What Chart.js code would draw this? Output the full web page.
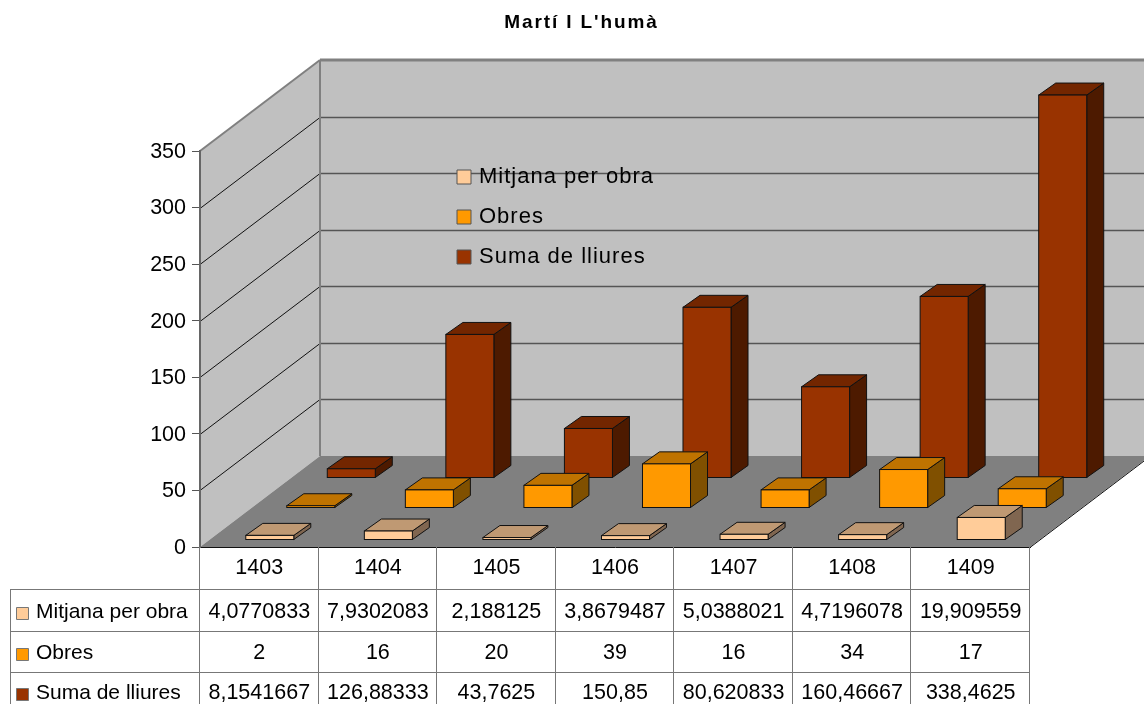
<!DOCTYPE html>
<html>
<head>
<meta charset="utf-8">
<title>Martí I L'humà</title>
<style>
  html, body { margin: 0; padding: 0; background: #fff; }
  canvas { display: block; }
</style>
<script src="https://cdn.jsdelivr.net/npm/chart.js@4/dist/chart.umd.min.js"></script>
</head>
<body>
<canvas id="myChart" width="1144" height="704"></canvas>
<script>
// --- Data ---
const years = ['1403', '1404', '1405', '1406', '1407', '1408', '1409'];
const seriesNames = ['Mitjana per obra', 'Obres', 'Suma de lliures'];
const mitjana = [4.0770833, 7.9302083, 2.188125, 3.8679487, 5.0388021, 4.7196078, 19.909559];
const obres = [2, 16, 20, 39, 16, 34, 17];
const suma = [8.1541667, 126.88333, 43.7625, 150.85, 80.620833, 160.46667, 338.4625];

// --- Styles ---
const FONT = '"Liberation Sans", Arial, sans-serif';
const colors = ['#ffcc99', '#ff9900', '#993300'];
const topColors = ['#bf9973', '#bf7300', '#732600'];
const sideColors = ['#806650', '#805000', '#4d1a00'];
const seriesOffset = [[10.5, -7], [51.5, -39], [92, -69]]; // each row sits deeper on the floor
const barDepth = [17, -12];
const wallDepth = [120, -91];
const rowLines = [589, 631, 672];
const rowCenters = [610, 651, 691];

function poly(ctx, pts, fill, stroke, width) {
    ctx.beginPath();
    pts.forEach((p, i) => i ? ctx.lineTo(p[0], p[1]) : ctx.moveTo(p[0], p[1]));
    ctx.closePath();
    if (fill) { ctx.fillStyle = fill; ctx.fill(); }
    if (stroke) { ctx.strokeStyle = stroke; ctx.lineWidth = width || 1; ctx.stroke(); }
}

function line(ctx, x1, y1, x2, y2, color, width) {
    ctx.beginPath();
    ctx.moveTo(x1, y1);
    ctx.lineTo(x2, y2);
    ctx.strokeStyle = color;
    ctx.lineWidth = width || 1;
    ctx.stroke();
}

// canvas letter spacing for the boxes that have stretched text
function spaceOut(box, px) {
    if (box._spaced) return;
    box._spaced = true;
    const draw = box.draw.bind(box);
    box.draw = function (area) {
        box.ctx.letterSpacing = px + 'px';
        draw(area);
        box.ctx.letterSpacing = '0px';
    };
}

// --- 3D room, bar faces and data table ---
const room3d = {
    id: 'room3d',
    afterLayout(chart) {
        const legend = chart.legend;
        legend.left = 442; legend.right = 760; legend.top = 148; legend.bottom = 500;
        chart.titleBlock.left = 19;
        chart.titleBlock.right = 1144;
        spaceOut(legend, 1);
        spaceOut(chart.titleBlock, 1.9);
    },
    beforeDraw(chart) {
        const ctx = chart.ctx;
        const y = chart.scales.y;
        const x = chart.scales.x;
        const l = x.left, r = x.right, t = y.top, b = y.bottom;
        const dx = wallDepth[0], dy = wallDepth[1];
        ctx.save();
        poly(ctx, [[l, t], [l + dx, t + dy], [l + dx, b + dy], [l, b]], '#c0c0c0');
        poly(ctx, [[l + dx, t + dy], [r + dx, t + dy], [r + dx, b + dy], [l + dx, b + dy]], '#c0c0c0');
        poly(ctx, [[l, b], [l + dx, b + dy], [r + dx, b + dy], [r, b]], '#808080');
        y.ticks.forEach(tick => {
            if (tick.value === 0 || tick.value === y.max) return;
            const py = Math.round(y.getPixelForValue(tick.value)) + 0.5;
            line(ctx, l, py, l + dx, py + dy, '#111');
            line(ctx, l + dx, py + dy, r + dx, py + dy, '#555', 1.5);
        });
        line(ctx, l, t, l + dx, t + dy, '#808080', 2);
        line(ctx, l + dx, t + dy, r + dx, t + dy, '#808080', 3);
        line(ctx, l + dx, t + dy, l + dx, b + dy, '#808080', 2);
        line(ctx, r, b + 0.5, r + dx, b + dy + 0.5, '#111');
        ctx.restore();
    },
    beforeDatasetDraw(chart, args) {
        const ctx = chart.ctx;
        const i = args.index;
        const dx = barDepth[0], dy = barDepth[1];
        ctx.save();
        ctx.translate(seriesOffset[i][0], seriesOffset[i][1]);
        args.meta.data.forEach(bar => {
            const p = bar.getProps(['x', 'y', 'base', 'width'], true);
            const x0 = p.x - p.width / 2, x1 = p.x + p.width / 2;
            poly(ctx, [[x1, p.y], [x1 + dx, p.y + dy], [x1 + dx, p.base + dy], [x1, p.base]], sideColors[i], '#111');
            poly(ctx, [[x0, p.y], [x0 + dx, p.y + dy], [x1 + dx, p.y + dy], [x1, p.y]], topColors[i], '#111');
        });
    },
    afterDatasetDraw(chart, args) {
        const ctx = chart.ctx;
        // outline on the edge of the front face, so the very low bars keep their fill
        args.meta.data.forEach(bar => {
            const p = bar.getProps(['x', 'y', 'base', 'width'], true);
            ctx.strokeStyle = '#111';
            ctx.lineWidth = 1;
            ctx.strokeRect(p.x - p.width / 2, p.y, p.width, p.base - p.y);
        });
        ctx.restore();
    },
    afterDraw(chart) {
        const ctx = chart.ctx;
        const x = chart.scales.x;
        const w = (x.right - x.left) / years.length;
        const bottom = chart.height;
        const grey = '#777';
        ctx.save();
        rowLines.forEach(ry => line(ctx, 10, ry + 0.5, x.right, ry + 0.5, grey));
        line(ctx, 10.5, rowLines[0], 10.5, bottom, grey);
        for (let c = 0; c <= years.length; c++) {
            const vx = Math.round(x.left + c * w) - 0.5;
            line(ctx, vx, x.top, vx, bottom, grey);
        }
        ctx.textBaseline = 'middle';
        chart.data.datasets.forEach((ds, i) => {
            const cy = rowCenters[i];
            poly(ctx, [[16.5, cy - 2.5], [28.5, cy - 2.5], [28.5, cy + 9.5], [16.5, cy + 9.5]], colors[i], grey);
            ctx.fillStyle = '#000';
            ctx.textAlign = 'left';
            ctx.font = '21px ' + FONT;
            ctx.fillText(ds.label, 36, cy + 2.5);
            ctx.textAlign = 'center';
            ctx.font = '21.5px ' + FONT;
            ds.data.forEach((v, c) => {
                ctx.fillText(String(v).replace('.', ','), x.getPixelForValue(c), cy + 2);
            });
        });
        ctx.restore();
    }
};

// --- Chart Setup ---
const ctx = document.getElementById('myChart').getContext('2d');
const sourceData = [mitjana, obres, suma];
const myChart = new Chart(ctx, {
    type: 'bar',
    data: {
        labels: years,
        datasets: seriesNames.map((name, i) => ({
            label: name,
            data: sourceData[i],
            backgroundColor: colors[i],
            borderColor: '#111',
            borderWidth: 0,
            grouped: false,
            barPercentage: 0.405,
            categoryPercentage: 1,
            clip: false
        }))
    },
    options: {
        responsive: false,
        animation: false,
        layout: { padding: { left: 0, right: 114, top: 0, bottom: 0 } },
        scales: {
            x: {
                grid: { drawOnChartArea: false, drawTicks: false },
                border: { color: '#111', width: 1 },
                ticks: { color: '#000', padding: 8, font: { family: FONT, size: 21.5 }, maxRotation: 0 },
                afterFit: s => { s.height = 157; }
            },
            y: {
                min: 0,
                max: 350,
                grid: { drawOnChartArea: false, color: '#555', tickLength: 8 },
                border: { color: '#666', width: 2 },
                ticks: { stepSize: 50, color: '#000', padding: 6, labelOffset: 1, font: { family: FONT, size: 21.5 } },
                afterFit: s => { s.width = 200; }
            }
        },
        plugins: {
            tooltip: { enabled: false },
            title: {
                display: true,
                text: "Martí I L'humà",
                color: '#000',
                font: { family: FONT, size: 19, weight: 'bold' },
                padding: { top: 11, bottom: 117.2 }
            },
            legend: {
                position: 'chartArea',
                align: 'start',
                labels: {
                    color: '#000',
                    font: { family: FONT, size: 22 },
                    usePointStyle: true,
                    pointStyle: 'rect',
                    boxWidth: 8,
                    boxHeight: 14,
                    padding: 18,
                    generateLabels: function (chart) {
                        const items = Chart.defaults.plugins.legend.labels.generateLabels(chart);
                        items.forEach(item => {
                            item.lineWidth = 1;
                            item.strokeStyle = '#555';
                        });
                        return items;
                    }
                }
            }
        }
    },
    plugins: [room3d]
});
</script>
</body>
</html>
